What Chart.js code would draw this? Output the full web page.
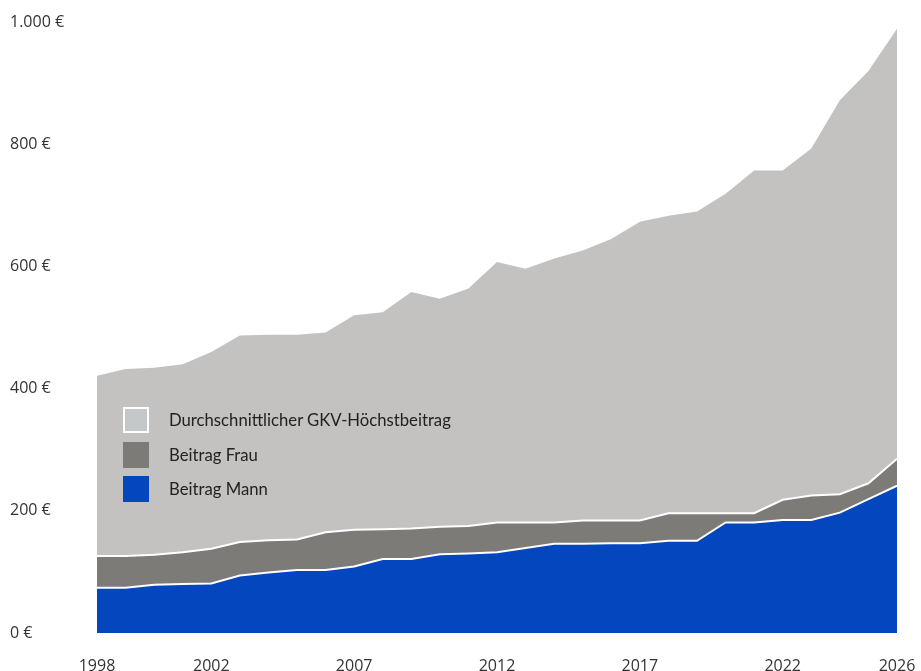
<!DOCTYPE html>
<html lang="de">
<head>
<meta charset="utf-8">
<script src="https://cdn.jsdelivr.net/npm/chart.js@4.4.1/dist/chart.umd.min.js"></script>
<style>
  html, body { margin: 0; padding: 0; background: #ffffff; }
  #wrap { position: relative; width: 921px; height: 671px; }
  #legend { position: absolute; left: 123px; top: 407px; font-family: "Lato", "Open Sans", sans-serif; font-size: 16.7px; color: #222; }
  .row { position: absolute; left: 0; height: 26px; white-space: nowrap; }
  .box { position: absolute; left: 0; top: 0; width: 26px; height: 26px; box-sizing: border-box; }
  .lbl { position: absolute; left: 46px; top: 0; line-height: 26px; }
</style>
</head>
<body>
<div id="wrap">
  <canvas id="c" width="921" height="671"></canvas>
  <div id="legend"></div>
</div>
<script>
// ---- data ----
const years = ['1998','1999','2000','2001','2002','2003','2004','2005','2006','2007',
               '2008','2009','2010','2011','2012','2013','2014','2015','2016','2017',
               '2018','2019','2020','2021','2022','2023','2024','2025','2026'];
const gkvHoechstbeitrag = [421, 432, 434, 440, 460, 487, 488, 488, 492, 520,
                           525, 558, 547, 564, 607, 596, 613, 626, 645, 673,
                           683, 690, 719, 757, 757, 793, 872, 920, 989];
const beitragFrau = [126, 126, 128, 132, 138, 149, 152, 153, 165, 169,
                     170, 171, 174, 175, 181, 181, 181, 184, 184, 184,
                     196, 196, 196, 196, 218, 225, 227, 245, 285];
const beitragMann = [74, 74, 79, 80, 81, 94, 99, 103, 103, 109,
                     121, 121, 129, 130, 132, 139, 146, 146, 147, 147,
                     151, 151, 181, 181, 185, 185, 197, 219, 241];
const xTickLabels = ['1998','2002','2007','2012','2017','2022','2026'];
const seriesNames = ['Durchschnittlicher GKV-Höchstbeitrag', 'Beitrag Frau', 'Beitrag Mann'];

const colGkv = '#c3c2c0';
const colFrau = '#7c7b77';
const colMann = '#0446bd';

function euro(v) {
  const s = String(Math.round(v)).replace(/\B(?=(\d{3})+(?!\d))/g, '.');
  return s + ' €';
}

const ctx = document.getElementById('c').getContext('2d');
new Chart(ctx, {
  type: 'line',
  data: {
    labels: years,
    datasets: [
      { label: seriesNames[2], data: beitragMann, fill: 'origin', backgroundColor: colMann,
        borderColor: '#ffffff', borderWidth: 2, pointRadius: 0, tension: 0 },
      { label: seriesNames[1], data: beitragFrau, fill: 'origin', backgroundColor: colFrau,
        borderColor: '#ffffff', borderWidth: 2, pointRadius: 0, tension: 0 },
      { label: seriesNames[0], data: gkvHoechstbeitrag, fill: 'origin', backgroundColor: colGkv,
        borderColor: colGkv, borderWidth: 0, pointRadius: 0, tension: 0 }
    ]
  },
  options: {
    responsive: false,
    devicePixelRatio: 1,
    animation: false,
    layout: { autoPadding: false, padding: { left: 10, top: 22, right: 24, bottom: 0 } },
    plugins: { legend: { display: false }, tooltip: { enabled: false } },
    scales: {
      x: {
        offset: false,
        grid: { display: false, drawTicks: false },
        border: { display: false },
        ticks: {
          autoSkip: false, maxRotation: 0, padding: 24,
          color: '#333', font: { family: 'Open Sans', size: 16 },
          callback: function (val, idx) {
            const lab = this.getLabelForValue(val);
            return xTickLabels.includes(lab) ? lab : '';
          }
        },
        afterFit: (s) => { s.height = 38; s.paddingLeft = 0; s.paddingRight = 0; }
      },
      y: {
        min: 0, max: 1000,
        grid: { display: false, drawTicks: false },
        border: { display: false },
        ticks: {
          stepSize: 200, crossAlign: 'far', padding: 0,
          color: '#333', font: { family: 'Open Sans', size: 16 },
          callback: (v) => euro(v)
        },
        afterFit: (s) => { s.width = 87; s.paddingTop = 0; s.paddingBottom = 0; }
      }
    }
  }
});

// legend as real text
const legend = document.getElementById('legend');
const legendItems = [
  { name: seriesNames[0], fill: '#c5c8c9', border: '2px solid #ffffff', top: 0 },
  { name: seriesNames[1], fill: colFrau, border: 'none', top: 35 },
  { name: seriesNames[2], fill: colMann, border: 'none', top: 69 }
];
legendItems.forEach(it => {
  const row = document.createElement('div');
  row.className = 'row';
  row.style.top = it.top + 'px';
  const b = document.createElement('div');
  b.className = 'box';
  b.style.background = it.fill;
  b.style.border = it.border;
  const l = document.createElement('div');
  l.className = 'lbl';
  l.textContent = it.name;
  row.appendChild(b); row.appendChild(l);
  legend.appendChild(row);
});
</script>
</body>
</html>
